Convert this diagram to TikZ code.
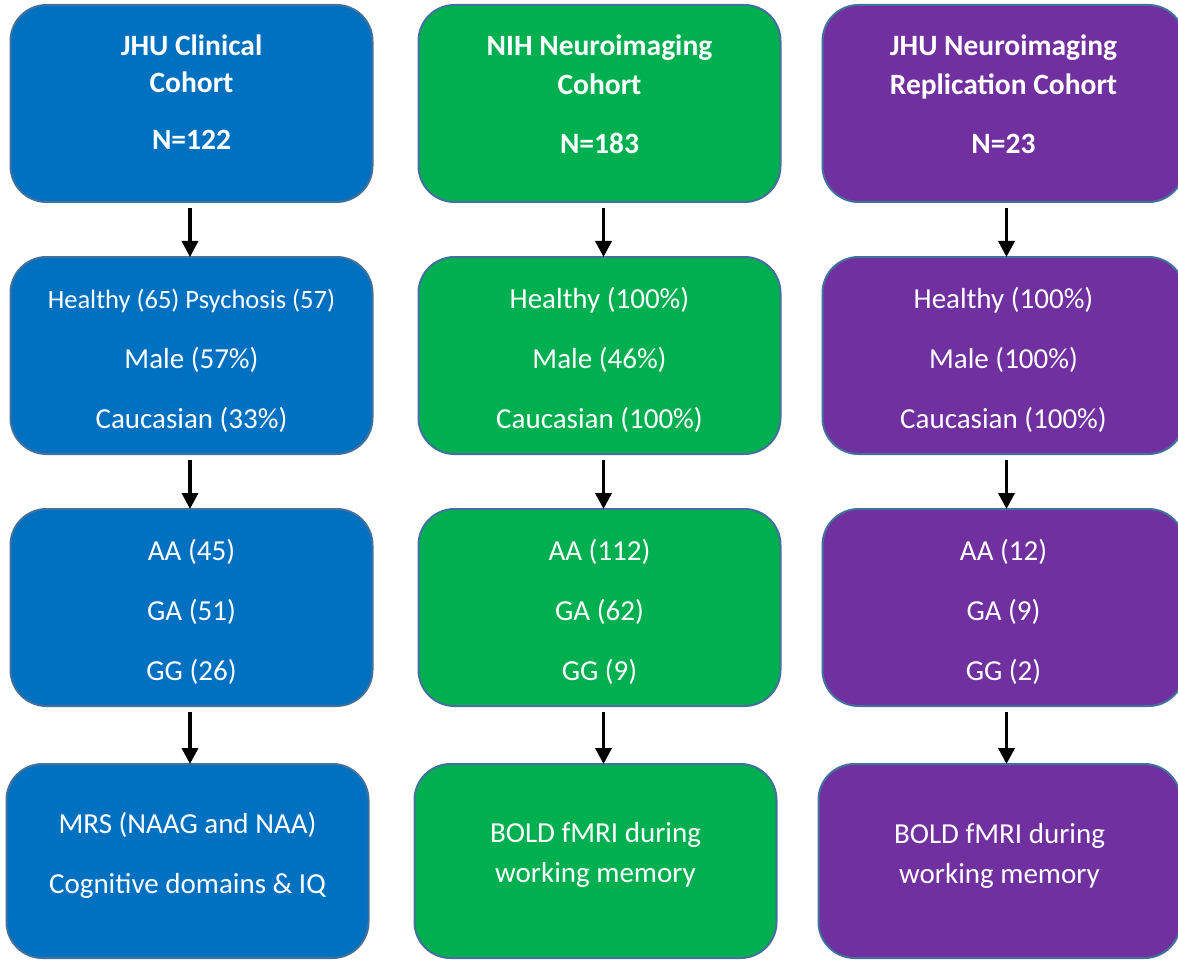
\documentclass[tikz,border=0pt]{standalone}
\usepackage{fontspec}
\setmainfont{Carlito}
\usetikzlibrary{positioning,arrows.meta}

\definecolor{jhublue}{HTML}{0070C0}
\definecolor{nihgreen}{HTML}{00B050}
\definecolor{reppurple}{HTML}{7030A0}
\definecolor{edgeblue}{HTML}{41719C}

\newcommand{\rowstrut}{\rule{0pt}{30pt}}

\tikzset{
  cohort/.style={draw=edgeblue, line width=2pt, rounded corners=36pt,
    minimum width=362pt, minimum height=197pt, inner sep=0pt, outer sep=0pt,
    align=center, text=white, font=\fontsize{29pt}{36pt}\selectfont},
  headbox/.style={cohort, font=\fontsize{29.5pt}{37.5pt}\selectfont\bfseries},
  flow/.style={-{Triangle[width=16pt,length=16pt]}, line width=3.5pt, shorten <=6pt}
}

\begin{document}
\begin{tikzpicture}[x=1pt, y=1pt]
            \useasboundingbox (0,0) rectangle (1178,-960);

            % cohorts
            \node[headbox, fill=jhublue] (jhu1) at (191.5,-103.5) {JHU Clinical\\Cohort\\[19pt]N=122\\[-14pt]};
            \node[headbox, fill=nihgreen, right=46pt of jhu1] (nih1) {NIH Neuroimaging\\[2pt]Cohort\\[21pt]N=183\\[-18pt]};
            \node[headbox, fill=reppurple, right=42pt of nih1] (rep1) {JHU Neuroimaging\\[2pt]Replication Cohort\\[21pt]N=23\\[-18pt]};

            % demographics
            \node[cohort, fill=jhublue, below=55pt of jhu1] (jhu2) {\rowstrut{\fontsize{26.5pt}{36pt}\selectfont Healthy (65) Psychosis (57)}\\[24pt]Male (57\%)\\[24pt]Caucasian (33\%)};
            \node[cohort, fill=nihgreen, below=55pt of nih1] (nih2) {\rowstrut Healthy (100\%)\\[24pt]Male (46\%)\\[24pt]Caucasian (100\%)};
            \node[cohort, fill=reppurple, below=55pt of rep1] (rep2) {\rowstrut Healthy (100\%)\\[24pt]Male (100\%)\\[24pt]Caucasian (100\%)};

            % genotypes
            \node[cohort, fill=jhublue, below=55pt of jhu2] (jhu3) {\rowstrut AA (45)\\[24pt]GA (51)\\[24pt]GG (26)};
            \node[cohort, fill=nihgreen, below=55pt of nih2] (nih3) {\rowstrut AA (112)\\[24pt]GA (62)\\[24pt]GG (9)};
            \node[cohort, fill=reppurple, below=55pt of rep2] (rep3) {\rowstrut AA (12)\\[24pt]GA (9)\\[24pt]GG (2)};

            % measures
            \node[cohort, fill=jhublue, minimum height=194pt, below=58pt of jhu3, xshift=-4pt] (jhu4) {MRS (NAAG and NAA)\\[24pt]Cognitive domains \& IQ\\[-20pt]};
            \node[cohort, fill=nihgreen, minimum height=194pt, below=58pt of nih3, xshift=-4pt] (nih4) {BOLD fMRI during\\[4pt]working memory\\[-19pt]};
            \node[cohort, fill=reppurple, minimum height=194pt, below=58pt of rep3, xshift=-4pt] (rep4) {BOLD fMRI during\\[4pt]working memory\\[-21pt]};

            \draw[flow] ([xshift=-1.5pt]jhu1.south) -- ([xshift=-1.5pt]jhu1.south |- jhu2.north);
            \draw[flow] ([xshift=-1.5pt]jhu2.south) -- ([xshift=-1.5pt]jhu2.south |- jhu3.north);
            \draw[flow] ([xshift=-1.5pt]jhu3.south) -- ([xshift=-1.5pt]jhu3.south |- jhu4.north);
            \draw[flow] ([xshift=4pt]nih1.south) -- ([xshift=4pt]nih1.south |- nih2.north);
            \draw[flow] ([xshift=4pt]nih2.south) -- ([xshift=4pt]nih2.south |- nih3.north);
            \draw[flow] ([xshift=4pt]nih3.south) -- ([xshift=4pt]nih3.south |- nih4.north);
            \draw[flow] ([xshift=3pt]rep1.south) -- ([xshift=3pt]rep1.south |- rep2.north);
            \draw[flow] ([xshift=3pt]rep2.south) -- ([xshift=3pt]rep2.south |- rep3.north);
            \draw[flow] ([xshift=3pt]rep3.south) -- ([xshift=3pt]rep3.south |- rep4.north);
        \end{tikzpicture}
\end{document}
